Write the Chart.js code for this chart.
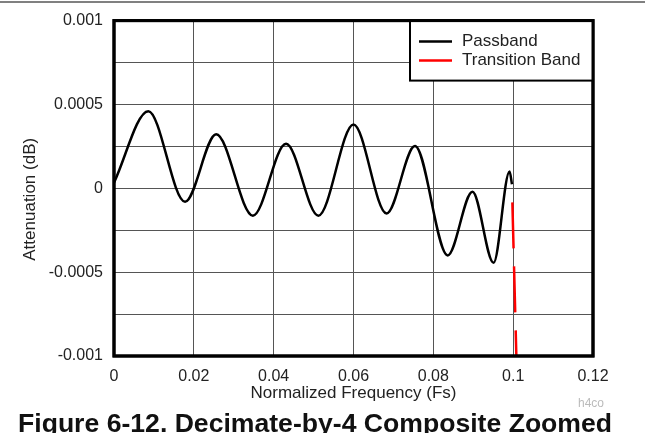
<!DOCTYPE html>
<html>
<head>
<meta charset="utf-8">
<script src="https://cdn.jsdelivr.net/npm/chart.js@4.4.1/dist/chart.umd.min.js"></script>
<style>
  html, body { margin: 0; padding: 0; background: #fff; overflow: hidden; }
  #wrap { position: relative; width: 645px; height: 433px; overflow: hidden; }
  #chart { position: absolute; left: 0; top: 0; }
  .rule { position: absolute; left: 0; top: 1px; width: 645px; height: 2px; background: #808080; }
  .fig-title { position: absolute; left: 18px; top: 408px; font: bold 26.6px 'Liberation Sans', Arial, sans-serif; color: #111; white-space: nowrap; }
  .mark { position: absolute; left: 578px; top: 396px; font: 12px 'Liberation Sans', Arial, sans-serif; color: #bbb; }
</style>
</head>
<body>
<div id="wrap">
  <canvas id="chart" width="645" height="433"></canvas>
  <div class="rule"></div>
  <div class="mark">h4co</div>
  <div class="fig-title">Figure 6-12. Decimate-by-4 Composite Zoomed</div>
</div>
<script>
// values
const passbandFreq = [0, 0.0086, 0.0178, 0.0256, 0.0348, 0.0431, 0.0512, 0.0600, 0.0683, 0.0754, 0.0836, 0.0898, 0.0951, 0.0991, 0.0997];
const passbandAtten = [0.000034, 0.00046, -0.00008, 0.000322, -0.000163, 0.000266, -0.000163, 0.000381, -0.00015, 0.000252, -0.0004, -0.00002, -0.000444, 0.0001, 0.000024];
const transitionFreq = [0.0998, 0.1008];
const transitionAtten = [-0.000084, -0.001];

const xTickValues = [0, 0.02, 0.04, 0.06, 0.08, 0.1, 0.12];
const xTickLabels = ['0', '0.02', '0.04', '0.06', '0.08', '0.1', '0.12'];
const yTickValues = [-0.001, -0.00075, -0.0005, -0.00025, 0, 0.00025, 0.0005, 0.00075, 0.001];
const yTickLabels = ['-0.001', '', '-0.0005', '', '0', '', '0.0005', '', '0.001'];

const FONT = "'Liberation Sans', Arial, sans-serif";

const toPoints = (xs, ys) => xs.map((x, i) => ({ x: x, y: ys[i] }));

// thick frame around the plot area
const framePlugin = {
  id: 'frame',
  afterDatasetsDraw(chart) {
    const a = chart.chartArea;
    const ctx = chart.ctx;
    ctx.save();
    ctx.strokeStyle = '#000';
    ctx.lineWidth = 3;
    ctx.strokeRect(a.left, a.top, a.right - a.left, a.bottom - a.top);
    ctx.restore();
  }
};

// y axis title sits a bit below the plot centre in the original
const yTitlePlugin = {
  id: 'yTitle',
  afterDraw(chart) {
    const a = chart.chartArea;
    const ctx = chart.ctx;
    ctx.save();
    ctx.translate(30, (a.top + a.bottom) / 2 + 11);
    ctx.rotate(-Math.PI / 2);
    ctx.font = '17px ' + FONT;
    ctx.fillStyle = '#222';
    ctx.textAlign = 'center';
    ctx.textBaseline = 'middle';
    ctx.fillText('Attenuation (dB)', 0, 0);
    ctx.restore();
  }
};

// boxed legend in the top right corner
const legendBoxPlugin = {
  id: 'legendBox',
  afterDraw(chart) {
    const a = chart.chartArea;
    const ctx = chart.ctx;
    const w = 183, h = 60;
    const x0 = a.right - w, y0 = a.top;
    ctx.save();
    ctx.fillStyle = '#fff';
    ctx.fillRect(x0, y0, w, h);
    ctx.strokeStyle = '#000';
    ctx.lineWidth = 2;
    ctx.strokeRect(x0, y0, w, h);
    ctx.lineWidth = 3;
    ctx.strokeRect(a.left, a.top, a.right - a.left, a.bottom - a.top);
    ctx.font = '17px ' + FONT;
    ctx.textBaseline = 'middle';
    chart.data.datasets.forEach((ds, i) => {
      const y = y0 + 21 + i * 19;
      ctx.strokeStyle = ds.borderColor;
      ctx.lineWidth = 2.5;
      ctx.beginPath();
      ctx.moveTo(x0 + 9, y);
      ctx.lineTo(x0 + 42, y);
      ctx.stroke();
      ctx.fillStyle = '#222';
      ctx.fillText(ds.label, x0 + 52, y);
    });
    ctx.restore();
  }
};

new Chart(document.getElementById('chart'), {
  type: 'line',
  data: {
    datasets: [
      {
        label: 'Passband',
        data: toPoints(passbandFreq, passbandAtten),
        borderColor: '#000',
        borderWidth: 2.5,
        pointRadius: 0,
        cubicInterpolationMode: 'monotone',
        clip: 0
      },
      {
        label: 'Transition Band',
        data: toPoints(transitionFreq, transitionAtten),
        borderColor: '#ff0000',
        borderWidth: 2.5,
        borderDash: [46, 18],
        pointRadius: 0,
        clip: 0
      }
    ]
  },
  options: {
    responsive: false,
    animation: false,
    layout: { padding: { left: 40, top: 19, right: 52, bottom: 29 } },
    plugins: {
      legend: { display: false },
      tooltip: { enabled: false }
    },
    scales: {
      x: {
        type: 'linear',
        min: 0,
        max: 0.12,
        afterBuildTicks: s => { s.ticks = xTickValues.map(v => ({ value: v })); },
        afterFit: s => { s.height = 48; },
        border: { display: false },
        grid: { color: '#555', lineWidth: 1, drawTicks: false },
        ticks: {
          autoSkip: false,
          maxRotation: 0,
          padding: 11,
          color: '#222',
          font: { family: FONT, size: 16 },
          callback: (v, i) => xTickLabels[i]
        },
        title: {
          display: true,
          text: 'Normalized Frequency (Fs)',
          color: '#222',
          padding: 0,
          font: { family: FONT, size: 17 }
        }
      },
      y: {
        min: -0.001,
        max: 0.001,
        afterBuildTicks: s => { s.ticks = yTickValues.map(v => ({ value: v })); },
        afterFit: s => { s.width = 74; },
        border: { display: false },
        grid: { color: '#555', lineWidth: 1, drawTicks: false },
        ticks: {
          autoSkip: false,
          padding: 11,
          color: '#222',
          font: { family: FONT, size: 16 },
          callback: (v, i) => yTickLabels[i]
        }
      }
    }
  },
  plugins: [framePlugin, yTitlePlugin, legendBoxPlugin]
});
</script>
</body>
</html>
